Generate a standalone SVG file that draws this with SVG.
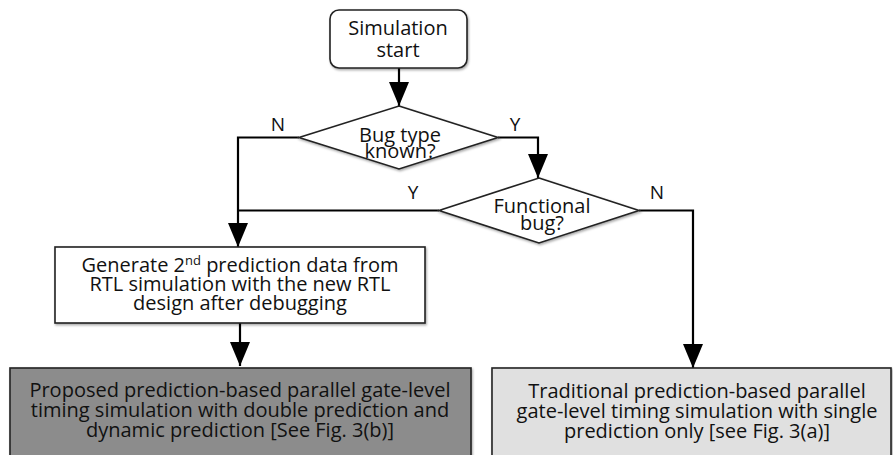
<svg xmlns="http://www.w3.org/2000/svg" width="893" height="455" viewBox="0 0 893 455">
<defs>
<marker id="ah" viewBox="0 -10 24 20" refX="24" refY="0" markerWidth="24" markerHeight="20" markerUnits="userSpaceOnUse" orient="auto">
<path d="M0,-10 L24,0 L0,10 z" fill="#000"/>
</marker>
<filter id="sh" x="-5%" y="-5%" width="110%" height="115%">
<feDropShadow dx="1" dy="1.5" stdDeviation="1" flood-color="#000" flood-opacity="0.35"/>
</filter>
</defs>
<style>
text{font-family:"Open Sans","Noto Sans","Liberation Sans",sans-serif;font-size:20px;fill:#111;text-anchor:middle}
.shape{stroke:#222;stroke-width:1.6;filter:url(#sh)}
.conn{fill:none;stroke:#000;stroke-width:2.2}
.lbl{font-size:19px}
</style>
<rect width="893" height="455" fill="#fff"/>
<g id="connectors">
<path class="conn" d="M399,68 V106" marker-end="url(#ah)"/>
<path class="conn" d="M299,137.5 H238 V247" marker-end="url(#ah)"/>
<path class="conn" d="M498,137.5 H538 V178" marker-end="url(#ah)"/>
<path class="conn" d="M439,210.5 H238"/>
<path class="conn" d="M639,210.5 H693 V368" marker-end="url(#ah)"/>
<path class="conn" d="M240,323 V366" marker-end="url(#ah)"/>
<text class="lbl" x="278" y="131">N</text>
<text class="lbl" x="515" y="131">Y</text>
<text class="lbl" x="413" y="199">Y</text>
<text class="lbl" x="657" y="199">N</text>
</g>
<g id="start">
<rect class="shape" x="330" y="10" width="137" height="58" rx="9" fill="#fff"/>
<text x="398" y="35">Simulation</text>
<text x="398" y="57">start</text>
</g>
<g id="bugtype">
<polygon class="shape" points="399,106 498,137.5 399,169 299,137.5" fill="#fff"/>
<text x="400" y="142">Bug type</text>
<text x="400" y="158">known?</text>
</g>
<g id="functional">
<polygon class="shape" points="539,178 639,210.5 539,243 439,210.5" fill="#fff"/>
<text x="542" y="213">Functional</text>
<text x="542" y="230">bug?</text>
</g>
<g id="generate">
<rect class="shape" x="55" y="247" width="370" height="76" fill="#fff"/>
<text x="240" y="272">Generate 2<tspan font-size="13" dy="-7">nd</tspan><tspan dy="7"> prediction data from</tspan></text>
<text x="240" y="291">RTL simulation with the new RTL</text>
<text x="240" y="310">design after debugging</text>
</g>
<g id="proposed">
<rect class="shape" x="10" y="368" width="461" height="88" fill="#8c8c8c"/>
<text x="240" y="397">Proposed prediction-based parallel gate-level</text>
<text x="240" y="417">timing simulation with double prediction and</text>
<text x="240" y="437">dynamic prediction [See Fig. 3(b)]</text>
</g>
<g id="traditional">
<rect class="shape" x="492" y="368" width="399" height="88" fill="#e0e0e0"/>
<text x="697" y="398">Traditional prediction-based parallel</text>
<text x="697" y="418">gate-level timing simulation with single</text>
<text x="697" y="438">prediction only [see Fig. 3(a)]</text>
</g>
</svg>
